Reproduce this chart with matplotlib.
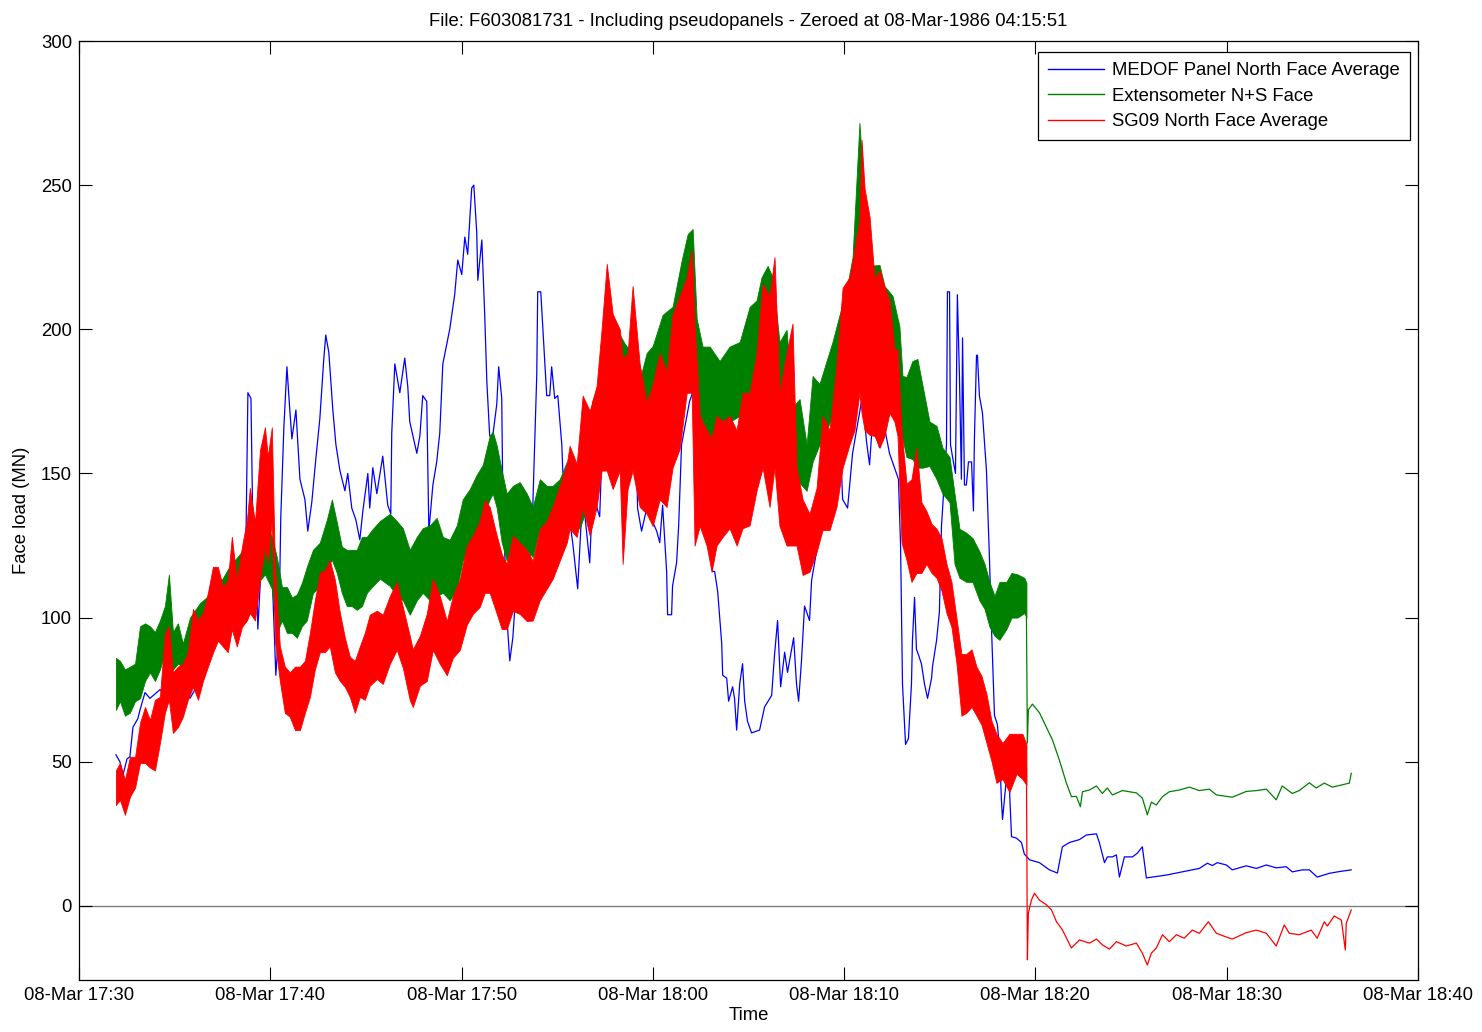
import matplotlib
matplotlib.use("Agg")
import matplotlib.pyplot as plt
from matplotlib.lines import Line2D

plt.rcParams['font.family'] = ['Liberation Sans', 'DejaVu Sans']

# ---------------- data (time in minutes after 08-Mar 17:30) ----------------
blue_t = [1.93, 2.14, 2.30, 2.51, 2.66, 2.82, 3.08, 3.19, 3.45, 3.71, 4.23, 4.75, 5.28, 5.80, 6.32, 6.58,
          6.84, 7.11, 7.47, 7.73, 7.99, 8.31, 8.57, 8.73, 8.83, 8.99, 9.09, 9.25, 9.35, 9.56, 9.87, 10.08,
          10.29, 10.45, 10.55, 10.71, 10.87, 11.02, 11.13, 11.34, 11.55, 11.81, 11.96, 12.17, 12.38, 12.59,
          12.80, 12.90, 13.06, 13.27, 13.43, 13.64, 13.90, 14.05, 14.26, 14.47, 14.68, 14.84, 15.10, 15.20,
          15.36, 15.57, 15.88, 16.14, 16.30, 16.35, 16.51, 16.77, 17.03, 17.19, 17.29, 17.66, 17.82, 17.97,
          18.18, 18.29, 18.50, 18.70, 18.86, 19.02, 19.38, 19.64, 19.80, 20.01, 20.17, 20.32, 20.53, 20.64,
          20.79, 20.85, 21.06, 21.21, 21.32, 21.47, 21.63, 21.84, 21.94, 22.10, 22.15, 22.36, 22.52, 22.68,
          22.88, 23.56, 23.72, 23.93, 23.98, 24.14, 24.25, 24.35, 24.45, 24.61, 24.71, 24.87, 25.03, 25.24,
          25.29, 25.81, 26.07, 26.33, 26.70, 26.85, 27.22, 27.38, 27.74, 28.63, 28.79, 29.15, 29.20, 29.41,
          29.68, 30.20, 30.36, 30.51, 30.72, 30.77, 30.98, 31.03, 31.24, 31.35, 31.50, 31.92, 32.34, 32.45,
          32.60, 32.81, 32.97, 33.12, 33.23, 33.39, 33.60, 33.65, 33.86, 33.96, 34.17, 34.27, 34.38, 34.54,
          34.69, 34.80, 34.95, 35.16, 35.58, 35.84, 36.21, 36.36, 36.52, 36.68, 36.89, 37.04, 37.36, 37.51,
          37.62, 37.77, 37.93, 38.19, 38.30, 38.61, 38.87, 39.13, 39.50, 39.76, 39.92, 40.18, 40.44, 40.96,
          41.17, 41.33, 41.48, 41.85, 42.11, 42.37, 42.63, 42.84, 42.95, 43.05, 43.21, 43.36, 43.52, 43.57,
          43.68, 43.78, 43.89, 44.04, 44.20, 44.36, 44.57, 44.62, 44.83, 44.98, 45.09, 45.14, 45.35, 45.40,
          45.51, 45.56, 45.66, 45.82, 45.92, 46.03, 46.13, 46.19, 46.29, 46.39, 46.50, 46.66, 46.76, 46.81,
          46.92, 46.97, 47.07, 47.23, 47.44, 47.60, 47.70, 47.86, 48.01, 48.12, 48.22, 48.28, 48.48, 48.64,
          48.75, 49.01, 49.27, 49.42, 49.69, 50.21, 50.73, 51.15, 51.41, 51.78, 52.30, 52.66, 53.19, 53.34,
          53.61, 53.76, 54.02, 54.23, 54.39, 54.65, 55.07, 55.33, 55.59, 55.80, 56.11, 56.84, 57.68, 58.57,
          58.99, 59.25, 59.51, 59.98, 60.29, 61.02, 61.55, 62.07, 62.59, 63.11, 63.43, 63.95, 64.32, 64.73,
          65.36, 65.88, 66.51]
blue_v = [52.4, 50, 45.4, 51, 51.7, 62, 65, 68, 74, 72, 75, 72, 80, 72, 78, 95,
          110, 106, 113, 104, 108, 96, 100, 128, 178, 176, 130, 126, 96, 123, 120, 118,
          80, 96, 135, 166, 187, 172, 162, 172, 148, 141, 130, 140, 155, 169,
          190, 198, 192, 172, 160, 151, 144, 150, 138, 134, 127, 137, 150, 138,
          152, 143, 156, 139, 136, 164, 188, 178, 190, 180, 168, 157, 163, 177,
          175, 130, 146, 154, 164, 188, 200, 212, 224, 219, 232, 226, 249, 250,
          234, 217, 231, 205, 182, 163, 163, 174, 187, 176, 145, 101, 85, 93,
          113, 120, 138, 184, 213, 213, 200, 188, 177, 177, 187, 176, 177, 160,
          151, 126, 110, 143, 119, 143, 135, 165, 160, 147, 151, 156, 138, 130,
          138, 130, 126, 139, 116, 101, 101, 111, 119, 132, 160, 175, 183, 144,
          132, 129, 128, 116, 116, 109, 91, 80, 79, 71, 76, 72, 61, 77,
          84, 71, 64, 60, 61, 69, 73, 87, 99, 76, 88, 81, 93, 77,
          71, 85, 104, 99, 113, 125, 140, 155, 150, 168, 141, 138, 157, 177,
          161, 153, 168, 159, 166, 157, 152, 148, 125, 77, 56, 58, 77, 92,
          107, 89, 87, 84, 77, 72, 79, 83, 92, 102, 132, 137, 160, 213,
          213, 160, 156, 150, 212, 183, 148, 197, 146, 146, 154, 154, 137, 162,
          191, 191, 177, 171, 151, 120, 97, 66, 63, 55, 37, 30, 44, 41,
          24, 23.5, 22, 18, 16, 15, 12.5, 11.4, 20.5, 22, 23, 24.6, 25, 22,
          15, 17, 17, 17.7, 10, 17, 17, 18.3, 20.5, 9.7, 10, 10.7, 11.8, 13,
          14.8, 14, 15, 14.2, 12.5, 13.9, 13, 14.2, 13.2, 13.6, 11.8, 12.5, 12.5, 10,
          11.3, 11.9, 12.5]

green_band_t = [1.93, 2.14, 2.40, 2.66, 2.93, 3.19, 3.45, 3.71, 3.97, 4.23, 4.49, 4.70, 4.91, 5.17, 5.43,
                5.80, 6.32, 6.84, 7.37, 7.89, 8.41, 8.93, 9.35, 9.72, 10.08, 10.34, 10.61, 10.87, 11.13,
                11.39, 11.65, 11.91, 12.23, 12.59, 12.96, 13.22, 13.48, 13.74, 14.00, 14.26, 14.52, 14.79,
                15.05, 15.31, 15.73, 16.25, 16.61, 16.93, 17.29, 17.66, 17.97, 18.34, 18.70, 19.02, 19.38,
                19.75, 20.06, 20.43, 20.79, 21.11, 21.47, 21.63, 21.84, 22.10, 22.36, 22.68, 23.04, 23.41,
                23.72, 24.09, 24.45, 24.76, 25.13, 25.50, 25.81, 26.18, 26.54, 26.85, 27.22, 27.74, 28.11,
                28.53, 28.94, 29.31, 29.68, 29.99, 30.51, 31.03, 31.50, 31.82, 32.08, 32.29, 32.60, 32.97,
                33.49, 34.01, 34.54, 35.06, 35.42, 35.68, 36.00, 36.26, 36.62, 36.99, 37.30, 37.67, 38.04,
                38.35, 38.71, 39.08, 39.39, 39.76, 40.13, 40.44, 40.80, 41.07, 41.33, 41.85, 42.11, 42.53,
                42.89, 43.05, 43.26, 43.57, 43.83, 44.10, 44.46, 44.83, 45.14, 45.51, 45.77, 46.03, 46.39,
                46.71, 47.07, 47.34, 47.60, 47.86, 48.12, 48.48, 48.75, 49.06, 49.42, 49.53]
green_hi = [86, 85, 82, 83, 84, 97, 98, 97, 95, 99, 104, 115, 95, 98, 91,
            100, 105, 108, 112, 118, 122, 128, 134, 134, 128, 121, 110.6, 110.6, 107,
            108, 112, 117.6, 123.5, 126, 134, 141, 133, 124.6, 123.5, 123.5, 123.5, 128,
            128, 130.4, 133.5, 136, 133.5, 131, 123.5, 128, 131, 132, 134.6, 128, 127,
            132, 141, 144.6, 149.5, 153, 163, 164.5, 159.6, 151, 143, 145.7, 147, 143,
            138.4, 148, 145.7, 145.7, 148, 154, 154, 153, 163, 175.5, 181.7, 192, 200,
            195, 191.5, 182.5, 191.8, 194.2, 205, 207.8, 223.7, 233, 234.8, 203.6, 194, 194,
            189, 194, 195.6, 207.8, 210, 218, 222, 218, 195.6, 199.8, 173, 175.8, 160,
            183.8, 181, 189, 195.6, 205, 214, 225, 271.6, 245, 222, 222.3, 215, 211.6,
            201, 183.8, 183.5, 189, 189.7, 180.4, 168, 166.5, 158.9, 155.7, 143, 130.8, 129.4,
            127.6, 123, 118.6, 112.4, 107.5, 112.4, 112.4, 115.5, 115, 113.8, 112]
green_lo = [68, 71, 66, 67, 71, 72, 78, 81, 78, 82, 88, 90, 82, 84, 83,
            85, 88, 92, 95, 100, 104, 108, 112, 115, 110, 94.7, 99, 94.7, 94.7,
            93, 97, 99, 108.6, 110.6, 117.6, 120, 115.5, 108.6, 104, 104, 102.7, 104,
            108.6, 110.6, 113.5, 111, 107.5, 106, 101, 106, 108.6, 106, 107.5, 108.6, 106,
            110, 119.7, 126, 128, 134.6, 141, 143, 138, 126, 119.7, 126, 124, 123.5,
            121, 131, 131, 128, 132, 136, 131, 131, 138, 151, 151, 160, 165,
            165, 162, 160, 160, 165, 170, 175, 180, 185, 185, 165, 162.7, 162,
            165, 167.9, 170, 173, 175, 175, 175, 172, 162, 165, 149, 146.7, 144,
            154, 160, 165, 170, 175, 178, 180, 185, 190, 180, 178, 175, 172,
            168, 162, 155.7, 155, 152, 152, 152.6, 148, 143, 140, 118.6, 113.8, 112.4,
            112.4, 106, 103, 96.8, 93.7, 92.3, 96, 100, 100, 101.6, 100]

green_tail_t = [49.53, 49.58, 49.63, 49.84, 50.21, 50.57, 50.89, 51.25, 51.62, 51.88, 52.14, 52.35, 52.46,
                52.82, 53.19, 53.50, 53.76, 54.02, 54.55, 55.28, 55.59, 55.85, 56.06, 56.32, 56.64, 57.00,
                57.52, 58.05, 58.57, 59.09, 59.46, 60.29, 61.02, 61.55, 62.07, 62.59, 62.90, 63.43, 63.79,
                64.32, 64.68, 65.10, 65.52, 66.04, 66.41, 66.51]
green_tail_v = [100, 56.5, 68, 70, 67, 62, 57.6, 50.6, 42.6, 37.9, 38, 34.4, 39.6,
                40.2, 41.6, 39, 40.9, 38.5, 40, 39.2, 37.4, 31.6, 36, 35, 37.9, 39.6,
                40.2, 41.2, 40, 40.5, 38.5, 37.7, 39.7, 40, 40.5, 36.8, 41.6, 39, 40,
                42.7, 40.9, 42.6, 41.2, 42, 42.6, 46]

red_band_t = [1.93, 2.14, 2.40, 2.66, 2.93, 3.19, 3.45, 3.71, 3.97, 4.23, 4.49, 4.70, 4.91, 5.17, 5.43,
              5.69, 5.96, 6.22, 6.48, 6.74, 7.00, 7.26, 7.52, 7.78, 7.99, 8.25, 8.52, 8.78, 8.93, 9.20,
              9.46, 9.72, 9.87, 10.08, 10.24, 10.50, 10.76, 11.02, 11.29, 11.55, 11.81, 12.07, 12.33,
              12.59, 12.85, 13.11, 13.38, 13.64, 13.90, 14.16, 14.42, 14.68, 14.94, 15.20, 15.57, 15.88,
              16.25, 16.61, 16.93, 17.29, 17.45, 17.82, 18.18, 18.50, 18.86, 19.23, 19.54, 19.91, 20.27,
              20.59, 20.95, 21.21, 21.47, 21.84, 22.10, 22.36, 22.68, 23.04, 23.41, 23.72, 24.09, 24.45,
              24.76, 25.13, 25.50, 25.65, 26.02, 26.33, 26.70, 27.06, 27.32, 27.59, 27.90, 28.27, 28.42,
              28.68, 28.94, 29.31, 29.68, 29.99, 30.36, 30.72, 31.03, 31.40, 31.77, 32.03, 32.18, 32.45,
              32.81, 33.07, 33.33, 33.65, 34.01, 34.38, 34.69, 35.06, 35.42, 35.74, 36.10, 36.36, 36.62,
              36.99, 37.30, 37.51, 37.83, 38.19, 38.56, 38.87, 39.24, 39.60, 39.92, 40.28, 40.54, 40.80,
              40.91, 41.07, 41.33, 41.59, 41.85, 42.11, 42.37, 42.63, 42.79, 43.00, 43.26, 43.52, 43.78,
              44.04, 44.30, 44.57, 44.83, 45.09, 45.35, 45.61, 45.87, 46.13, 46.39, 46.66, 46.92, 47.18,
              47.44, 47.70, 47.96, 48.28, 48.64, 49.01, 49.32, 49.53]
red_hi = [47, 49.6, 43.7, 51.7, 51.7, 63.5, 69, 64.5, 71.5, 72.5, 94.7, 97, 81, 83, 84,
          88, 103, 99, 101.6, 108.6, 117.6, 117.6, 110.6, 113, 128, 113, 124.6, 134, 145, 133,
          158, 166, 155.8, 166, 117.6, 90, 83, 81, 83, 83, 85, 94.7, 106,
          115.5, 116.5, 120, 113, 101.6, 93, 86.4, 85, 90, 94.7, 101, 102.4, 101,
          107.5, 112.4, 103.7, 93.7, 89, 93.7, 101.3, 113.4, 107.5, 98.8, 107.5, 113.4, 125,
          128.4, 133.5, 140.8, 138.4, 128.4, 122, 118.6, 128.4, 126, 123.5, 119.7, 130.8, 133.5,
          138.4, 145.7, 153.3, 159.6, 153.3, 177, 171.7, 180.4, 200, 222.7, 205.3, 200, 190,
          191.5, 215, 188, 174.5, 181, 191.8, 185, 205, 211.6, 218, 227.5, 202, 170,
          165, 162.3, 170, 168, 170, 165, 178, 178, 191.8, 215.7, 211.6, 225, 178,
          191.8, 202, 152, 141, 136, 145, 170, 165, 187.7, 214.4, 218, 227.5, 238.3,
          265.7, 248.7, 239, 217.5, 220.6, 214.7, 210, 193, 193, 165, 146.4, 148, 159,
          140, 137, 132.5, 130.8, 127.6, 118.6, 112.4, 100, 87.4, 87.4, 89, 82.9, 79.8,
          73.5, 64.2, 59.7, 56.5, 59.7, 59.7, 59.7, 56]
red_lo = [35, 36.8, 31.6, 37.8, 41, 49.6, 49.6, 48, 47, 56.5, 67, 71.5, 60, 62, 65.6,
          71.5, 76, 71.5, 78, 83, 87.8, 92, 90, 88, 96, 90, 96.8, 99, 101.6, 99,
          113, 124.6, 119, 134, 92, 78, 67, 65.6, 61, 61, 67, 72.5, 82,
          88, 88, 90, 81, 78, 76, 72.5, 67, 72.5, 71.5, 76.4, 78.7, 77,
          84, 88.8, 82.6, 71.5, 69, 76.4, 78, 88.8, 84, 80, 86, 88.8, 97.5,
          101.3, 103.7, 108.6, 108.6, 101.3, 96, 96, 102.3, 101.3, 98.8, 99, 106, 110,
          113.4, 119.7, 126, 130.8, 128, 138.4, 128.4, 138.4, 151, 151, 144.6, 151, 118.6,
          144.6, 151, 138.4, 136, 131.8, 141, 138.4, 152, 158.5, 178, 178, 125, 131.8,
          125, 115.9, 125, 128, 131, 125, 131, 132, 144, 152, 138.4, 152, 131.8,
          125, 125, 125, 114.8, 115.9, 122.8, 130.4, 130.4, 138.4, 152, 160, 165, 178,
          171, 165, 163.4, 163, 158.9, 163, 171, 168, 163, 126, 120, 112.4, 115.5,
          115.5, 118.6, 115.5, 113.8, 109.3, 101.6, 96.8, 84.3, 66, 67, 69, 66, 62.8,
          56.5, 50.3, 42.7, 44, 39.5, 45.8, 44, 42]

red_tail_t = [49.53, 49.58, 49.63, 49.79, 49.95, 50.21, 50.57, 50.84, 51.10, 51.41, 51.67, 51.88, 52.30,
              52.82, 53.19, 53.50, 53.87, 54.23, 54.75, 55.28, 55.59, 55.85, 56.06, 56.32, 56.64, 57.00,
              57.37, 57.78, 58.20, 58.57, 59.04, 59.46, 59.98, 60.29, 61.02, 61.55, 62.07, 62.59, 63.01,
              63.27, 63.79, 64.42, 64.73, 65.10, 65.26, 65.62, 65.99, 66.04, 66.20, 66.25, 66.51]
red_tail_v = [48, -18.7, -2.5, 2, 4.4, 2, 0.4, -1.4, -5.5, -8.3, -11.8, -14.6, -11.8,
              -12.9, -11.5, -13.5, -15, -12.4, -13.9, -12.9, -16.4, -20.5, -16.4, -14.6, -10, -12.4,
              -10, -11.2, -8.4, -9.5, -5.5, -9.5, -10.8, -11.5, -9.3, -8.4, -9.5, -13.9, -6.6,
              -9.5, -10, -8.4, -11.2, -5.5, -7, -3.5, -4.9, -7.2, -15.3, -6, -1.4]

xtick_minutes = [0, 10, 20, 30, 40, 50, 60, 70]
xtick_labels = ['08-Mar 17:30', '08-Mar 17:40', '08-Mar 17:50', '08-Mar 18:00',
                '08-Mar 18:10', '08-Mar 18:20', '08-Mar 18:30', '08-Mar 18:40']
ytick_values = [0, 50, 100, 150, 200, 250, 300]
series_names = ['MEDOF Panel North Face Average', 'Extensometer N+S Face', 'SG09 North Face Average']
title_text = 'File: F603081731 - Including pseudopanels - Zeroed at 08-Mar-1986 04:15:51'

# ---------------- figure ----------------
W, H = 1482, 1032
fig = plt.figure(figsize=(W / 100, H / 100), dpi=100)
ax = fig.add_axes([79 / W, 1 - 980 / H, (1418 - 79) / W, (980 - 41) / H])

BLUE = (0, 0, 1)
GREEN = (0, 0.5, 0)
RED = (1, 0, 0)
FS = 13.3

ax.axhline(0, color='#808080', lw=1.0, zorder=1)
ax.plot(blue_t, blue_v, color=BLUE, lw=0.9, zorder=2)
ax.fill_between(green_band_t, green_lo, green_hi, color=GREEN, lw=0.6, zorder=3)
ax.plot(green_tail_t, green_tail_v, color=GREEN, lw=0.9, zorder=3)
ax.fill_between(red_band_t, red_lo, red_hi, color=RED, lw=0.6, zorder=4)
ax.plot(red_tail_t, red_tail_v, color=RED, lw=0.9, zorder=4)

ax.set_xlim(0, 70)
ax.set_ylim(-25.7, 300)
ax.set_xticks(xtick_minutes)
ax.set_xticklabels(xtick_labels)
ax.set_yticks(ytick_values)
ax.tick_params(direction='in', length=9.5, width=0.8, top=True, right=True,
               labelsize=FS, pad=5)
for s in ax.spines.values():
    s.set_linewidth(0.9)
    s.set_color('black')

ax.set_xlabel('Time', fontsize=FS, labelpad=2)
ax.set_ylabel('Face load (MN)', fontsize=FS, labelpad=8)
ax.set_title(title_text, fontsize=FS, pad=11)

handles = [Line2D([], [], color=c, lw=1.0) for c in (BLUE, GREEN, RED)]
leg = ax.legend(handles, series_names, loc='upper right', bbox_to_anchor=(0.994, 0.988),
                borderaxespad=0, fontsize=FS, frameon=True, fancybox=False, framealpha=1,
                edgecolor='black', handlelength=3.0, handletextpad=0.45, labelspacing=0.45,
                borderpad=0.55)
leg.get_frame().set_linewidth(0.9)

fig.savefig('out.png', dpi=100)
